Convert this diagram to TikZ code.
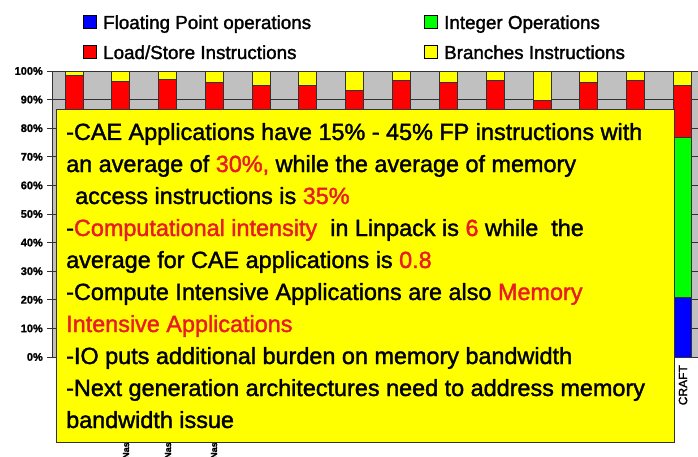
\documentclass[tikz,border=0pt]{standalone}
\usepackage{fontspec}
\setmainfont{Liberation Sans}
\newfontfamily\heavyfont{Liberation Sans}[FakeBold=1.6]
\newfontfamily\axisfont{Liberation Sans}[UprightFont={* Bold}, FakeBold=1.5]

\definecolor{plotgray}{RGB}{192,192,192}
\definecolor{gridline}{RGB}{50,50,50}
\definecolor{fpblue}{RGB}{0,0,255}
\definecolor{intgreen}{RGB}{0,255,0}
\definecolor{lsred}{RGB}{255,0,0}
\definecolor{bryellow}{RGB}{255,255,0}
\definecolor{hilite}{RGB}{232,28,36}
\newcommand{\hl}[1]{\textcolor{hilite}{#1}}

\tikzset{
  gridrule/.style={draw=gridline, line width=0.8pt},
  barseg/.style={draw=gridline, line width=0.7pt},
  ylabel/.style={anchor=east, inner sep=0pt, font=\axisfont\fontsize{11}{11}\selectfont},
  legendbox/.style={draw=black, line width=0.7pt, minimum size=13pt, inner sep=0pt, anchor=north west},
  legendtext/.style={anchor=base west, inner sep=0pt, font=\heavyfont\fontsize{18.8}{20}\selectfont},
  noteline/.style={anchor=base west, inner sep=0pt, font=\heavyfont\fontsize{23.4}{26}\selectfont},
  catlabel/.style={rotate=90, inner sep=0pt, font=\axisfont\fontsize{9}{9}\selectfont},
}

\begin{document}
\begin{tikzpicture}[x=1pt,y=-1pt]
\useasboundingbox (0,0) rectangle (698,457);
\fill[white] (0,0) rectangle (698,457);

% ---- legend ----
\node[legendbox, fill=fpblue]    (kfp)  at (83,15)  {};
\node[legendtext]                (tfp)  at (103,29) {Floating Point operations};
\node[legendbox, fill=lsred]     (kls)  at (83,45)  {};
\node[legendtext]                (tls)  at (103,59) {Load/Store Instructions};
\node[legendbox, fill=intgreen]  (kint) at (424,15) {};
\node[legendtext]                (tint) at (444,29) {Integer Operations};
\node[legendbox, fill=bryellow]  (kbr)  at (424,45) {};
\node[legendtext]                (tbr)  at (444,59) {Branches Instructions};

% ---- instruction-mix chart (x in px, y in percent) ----
\begin{scope}[shift={(0,357)}, y=2.86pt]
  \fill[plotgray] (52,0) rectangle (698,100);
  \foreach \p in {10,20,...,90} \draw[gridrule] (52,\p) -- (698,\p);
  \draw[gridrule] (52,0) -- (52,100) -- (698,100);
  \draw[gridrule] (52,0) -- (698,0);
  \foreach \p in {0,10,...,100} {
    \draw[gridrule] (47,\p) -- (52,\p);
    \node[ylabel] (y\p) at (43,\p) {\p\%};
  }
  % stacked bars: left edge / FP top / integer top / load-store top
  \foreach \x/\fp/\int/\ls in {65/21/77/98.4, 111/21/77/96.5, 158/21/77/97.1,
      205/21/77/96.0, 252/21/77/95.1, 298/21/77/95.1, 345/21/77/93.1,
      392/21/77/96.9, 439/21/77/95.9, 486/21/77/96.9, 533/21/77/89.9,
      579/21/77/95.9, 626/21/77/96.9, 673/21/76.9/95.1} {
    \filldraw[barseg, fill=fpblue]   (\x,0)    rectangle (\x+18,\fp);
    \filldraw[barseg, fill=intgreen] (\x,\fp)  rectangle (\x+18,\int);
    \filldraw[barseg, fill=lsred]    (\x,\int) rectangle (\x+18,\ls);
    \filldraw[barseg, fill=bryellow] (\x,\ls)  rectangle (\x+18,100);
  }
\end{scope}

% ---- category labels under the axis (mostly hidden by the note) ----
\node[catlabel, anchor=east, font=\heavyfont\fontsize{12}{12}\selectfont] (craft) at (683,365) {CRAFT};
\foreach \x [count=\i] in {126,168,214}
  \node[catlabel, anchor=west] (cat\i) at (\x,459) {Nastran};

% ---- overlay note ----
\node[draw=gridline, line width=0.8pt, fill=bryellow, anchor=north west,
      minimum width=618pt, minimum height=333pt, inner sep=0pt] (note) at (56,109) {};

\node[noteline] (l1)  at (66,140) {-CAE Applications have 15\% - 45\% FP instructions with};
\node[noteline] (l2)  at (66,172) {an average of \hl{30\%,} while the average of memory};
\node[noteline] (l3)  at (75,204) {access instructions is \hl{35\%}};
\node[noteline] (l4)  at (66,236) {-\hl{Computational intensity}\ \ in Linpack is \hl{6} while\ \ the};
\node[noteline] (l5)  at (66,268) {average for CAE applications is \hl{0.8}};
\node[noteline] (l6)  at (66,300) {-Compute Intensive Applications are also \hl{Memory}};
\node[noteline] (l7)  at (66,332) {\hl{Intensive Applications}};
\node[noteline] (l8)  at (66,364) {-IO puts additional burden on memory bandwidth};
\node[noteline] (l9)  at (66,396) {-Next generation architectures need to address memory};
\node[noteline] (l10) at (66,428) {bandwidth issue};
\end{tikzpicture}
\end{document}
